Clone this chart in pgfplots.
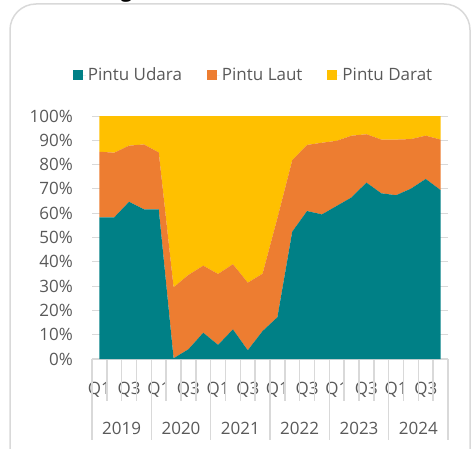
\documentclass[border=0pt]{standalone}
\usepackage{pgfplots}
\usepackage{pgfplotstable}
\pgfplotsset{compat=1.18}
\usepackage{fontspec}
\setmainfont{Open Sans}
\definecolor{tealc}{RGB}{0,128,134}
\definecolor{orng}{RGB}{237,125,49}
\definecolor{yel}{RGB}{255,192,0}
\definecolor{txt}{RGB}{89,89,89}
\definecolor{grd}{RGB}{217,217,217}

\pgfplotstableread{
i udara laut darat
0 58.3 27.0 14.7
1 58.3 26.6 15.1
2 64.7 23.1 12.2
3 61.6 26.7 11.7
4 61.6 23.4 15.0
5 0.3 29.2 70.5
6 4.0 30.6 65.4
7 10.8 27.6 61.6
8 5.8 29.2 65.0
9 12.2 26.8 61.0
10 3.6 27.8 68.6
11 11.5 23.6 64.9
12 17.2 40.8 42.0
13 52.4 29.4 18.2
14 60.9 27.2 11.9
15 59.5 29.5 11.0
16 63.0 26.8 10.2
17 66.5 25.4 8.1
18 72.6 19.9 7.5
19 68.2 22.1 9.7
20 67.4 22.9 9.7
21 70.1 20.4 9.5
22 74.1 17.8 8.1
23 69.5 20.8 9.7
}\data

\begin{document}
\begin{tikzpicture}
\path[use as bounding box] (0pt,0pt) rectangle (471pt,448pt);
\clip (0pt,0pt) rectangle (471pt,448pt);
\draw[grd, line width=1.5pt, rounded corners=26pt] (10pt,-60pt) -- (10pt,444pt) -- (470pt,444pt) -- (470pt,-60pt);
\node[font=\bfseries\fontsize{20}{24}\selectfont, anchor=base] at (126.5pt,450pt) {g};
\begin{axis}[
  at={(92pt,89pt)}, anchor=south west,
  width=356pt, height=243pt, scale only axis,
  xmin=-0.5, xmax=23.5, ymin=0, ymax=100,
  clip=false,
  stack plots=y,
  axis x line*=bottom, axis y line*=left,
  y axis line style={draw=none},
  x axis line style={grd, line width=1.5pt, -},
  ytick={0,10,...,100},
  yticklabels={0\%,10\%,20\%,30\%,40\%,50\%,60\%,70\%,80\%,90\%,100\%},
  ymajorgrids, grid style={grd, line width=1pt},
  major tick length=0pt,
  xtick={0,2,...,22},
  xticklabels={Q1,Q3,Q1,Q3,Q1,Q3,Q1,Q3,Q1,Q3,Q1,Q3},
  tick label style={font=\fontsize{17}{20}\selectfont, text=txt},
  xticklabel style={anchor=base, yshift=-35pt},
  yticklabel style={anchor=east, inner sep=0pt, xshift=-19pt},
  extra x ticks={1.5,5.5,9.5,13.5,17.5,21.5},
  extra x tick labels={2019,2020,2021,2022,2023,2024},
  extra x tick style={xticklabel style={yshift=-40pt}, grid=none},
  legend style={at={(0.4537,1.168)}, anchor=center, draw=none, fill=none,
    legend columns=3, font=\fontsize{17}{20}\selectfont, text=txt,
    /tikz/every even column/.append style={column sep=23pt}},
  legend image code/.code={\fill[#1] (0pt,-5pt) rectangle (10pt,5pt); \path (0pt,0pt) -- (13pt,0pt);},
]
\addplot[fill=tealc, draw=none] table[x=i,y=udara] {\data} \closedcycle;
\addplot[fill=orng, draw=none] table[x=i,y=laut] {\data} \closedcycle;
\addplot[fill=yel, draw=none] table[x=i,y=darat] {\data} \closedcycle;
\legend{Pintu Udara, Pintu Laut, Pintu Darat}
\pgfplotsinvokeforeach{0.5,1.5,2.5,4.5,5.5,6.5,8.5,9.5,10.5,12.5,13.5,14.5,16.5,17.5,18.5,20.5,21.5,22.5}{
  \draw[grd, line width=1.5pt] (axis cs:#1,0) -- ++(0pt,-42pt);
}
\pgfplotsinvokeforeach{-0.5,3.5,7.5,11.5,15.5,19.5,23.5}{
  \draw[grd, line width=1.5pt] (axis cs:#1,0) -- ++(0pt,-81pt);
}
\end{axis}
\end{tikzpicture}
\end{document}
